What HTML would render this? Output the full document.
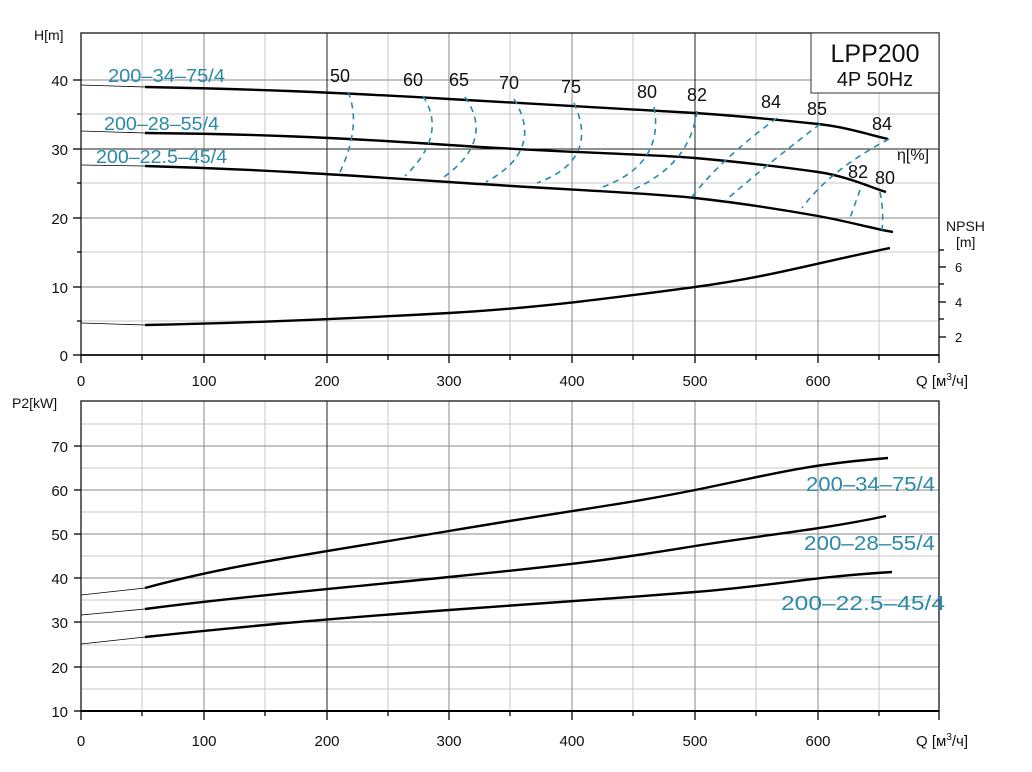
<!DOCTYPE html>
<html><head><meta charset="utf-8"><style>
body{margin:0;background:#fff;}
svg{display:block;font-family:"Liberation Sans",sans-serif;}
.t{fill:#2a8aa8;font-size:18px;}
.tb{fill:#2a8aa8;font-size:20px;}
.k{fill:#111;font-size:15px;}
.e{fill:#111;font-size:18px;}
.d{fill:none;stroke:#2a8aa8;stroke-width:1.6;stroke-dasharray:6,5;}
.c{fill:none;stroke:#000;stroke-width:2.4;}
.th{fill:none;stroke:#000;stroke-width:0.8;}
</style></head><body>
<svg width="1032" height="772" viewBox="0 0 1032 772">
<g stroke="#c8c8c8" stroke-width="1">
<line x1="142" y1="33" x2="142" y2="355"/><line x1="265" y1="33" x2="265" y2="355"/><line x1="388" y1="33" x2="388" y2="355"/><line x1="510" y1="33" x2="510" y2="355"/><line x1="633" y1="33" x2="633" y2="355"/><line x1="756" y1="33" x2="756" y2="355"/><line x1="879" y1="33" x2="879" y2="355"/>
<line x1="81" y1="114" x2="939" y2="114"/><line x1="81" y1="183" x2="939" y2="183"/><line x1="81" y1="252" x2="939" y2="252"/><line x1="81" y1="321" x2="939" y2="321"/>
</g>
<g stroke="#8a8a8a" stroke-width="1">
<line x1="204" y1="33" x2="204" y2="355"/><line x1="449" y1="33" x2="449" y2="355"/><line x1="572" y1="33" x2="572" y2="355"/><line x1="818" y1="33" x2="818" y2="355"/>
<line x1="81" y1="80" x2="939" y2="80"/><line x1="81" y1="218" x2="939" y2="218"/><line x1="81" y1="287" x2="939" y2="287"/>
</g>
<g stroke="#222" stroke-width="1">
<line x1="327" y1="33" x2="327" y2="355"/><line x1="695" y1="33" x2="695" y2="355"/><line x1="81" y1="149" x2="939" y2="149"/>
</g>
<rect x="81" y="33" width="858" height="322" fill="none" stroke="#333" stroke-width="1.5"/>
<line x1="81" y1="355" x2="939" y2="355" stroke="#000" stroke-width="1.5"/>
<g stroke="#000" stroke-width="1.3">
<line x1="73" y1="80" x2="81" y2="80"/><line x1="73" y1="149" x2="81" y2="149"/><line x1="73" y1="218" x2="81" y2="218"/><line x1="73" y1="287" x2="81" y2="287"/><line x1="73" y1="355" x2="81" y2="355"/>
<line x1="77" y1="114" x2="81" y2="114"/><line x1="77" y1="183" x2="81" y2="183"/><line x1="77" y1="252" x2="81" y2="252"/><line x1="77" y1="321" x2="81" y2="321"/>
<line x1="81" y1="355" x2="81" y2="363"/><line x1="204" y1="355" x2="204" y2="363"/><line x1="327" y1="355" x2="327" y2="363"/><line x1="449" y1="355" x2="449" y2="363"/><line x1="572" y1="355" x2="572" y2="363"/><line x1="695" y1="355" x2="695" y2="363"/><line x1="818" y1="355" x2="818" y2="363"/><line x1="939" y1="355" x2="939" y2="363"/>
<line x1="142" y1="355" x2="142" y2="360"/><line x1="265" y1="355" x2="265" y2="360"/><line x1="388" y1="355" x2="388" y2="360"/><line x1="510" y1="355" x2="510" y2="360"/><line x1="633" y1="355" x2="633" y2="360"/><line x1="756" y1="355" x2="756" y2="360"/><line x1="879" y1="355" x2="879" y2="360"/>
<line x1="939" y1="267" x2="946" y2="267"/><line x1="939" y1="302" x2="946" y2="302"/><line x1="939" y1="337" x2="946" y2="337"/>
<line x1="939" y1="250" x2="944" y2="250"/><line x1="939" y1="284" x2="944" y2="284"/><line x1="939" y1="319" x2="944" y2="319"/>
</g>
<g class="k" text-anchor="end">
<text x="68" y="86">40</text><text x="68" y="155">30</text><text x="68" y="224">20</text><text x="68" y="293">10</text><text x="68" y="361">0</text>
</g>
<text class="k" x="34" y="40" style="font-size:14px">H[m]</text>
<g class="k" text-anchor="middle">
<text x="81" y="386">0</text><text x="204" y="386">100</text><text x="327" y="386">200</text><text x="449" y="386">300</text><text x="572" y="386">400</text><text x="695" y="386">500</text><text x="818" y="386">600</text>
</g>
<text class="k" x="916" y="386">Q [м<tspan dy="-6" style="font-size:10px">3</tspan><tspan dy="6">/ч]</tspan></text>
<g class="k" style="font-size:13px"><text x="955" y="272">6</text><text x="955" y="307">4</text><text x="955" y="342">2</text></g>
<text class="k" x="946" y="231" style="font-size:14px">NPSH</text>
<text class="k" x="956" y="247" style="font-size:14px">[m]</text>
<text class="k" x="897" y="160" style="font-size:16px">η[%]</text>
<rect x="811" y="33" width="128" height="60" fill="#fff" stroke="#333" stroke-width="1"/>
<text x="875" y="62" text-anchor="middle" style="font-size:25px" fill="#111">LPP200</text>
<text x="875" y="86" text-anchor="middle" style="font-size:20px" fill="#111">4P  50Hz</text>
<path class="th" d="M81,85 L145,87"/><path class="th" d="M81,131 L145,133"/><path class="th" d="M81,165 L145,166"/><path class="th" d="M81,323 L145,325"/>
<path class="c" d="M145,87 C250,89 330,92 449,99 S650,110 695,113 S790,121 818,124 S870,135 888,139"/>
<path class="c" d="M145,133 C250,134 330,137 449,145 S650,154 695,158 S790,168 818,172 S870,187 886,192"/>
<path class="c" d="M145,166 C250,169 330,174 449,182 S650,193 695,198 S790,211 818,216 S875,229 893,232"/>
<path class="c" d="M145,325 C250,323 360,318 449,313 S620,297 695,287 S820,262 890,248"/>
<path class="d" d="M348,92 Q362,125 340,172"/>
<path class="d" d="M423,96 Q448,135 405,176"/>
<path class="d" d="M465,97 Q495,140 444,177"/>
<path class="d" d="M514,99 Q545,150 486,182"/>
<path class="d" d="M574,103 Q600,160 537,183"/>
<path class="d" d="M654,107 Q665,165 600,188"/>
<path class="d" d="M697,111 Q690,165 632,190"/>
<path class="d" d="M777,118 Q720,160 692,197"/>
<path class="d" d="M820,124 Q760,170 725,201"/>
<path class="d" d="M889,139 Q830,170 802,208"/>
<path class="d" d="M860,190 L850,218"/>
<path class="d" d="M880,192 Q884,212 882,230"/>
<g class="e" text-anchor="middle">
<text x="340" y="82">50</text><text x="413" y="86">60</text><text x="459" y="86">65</text><text x="509" y="89">70</text><text x="571" y="93">75</text><text x="647" y="98">80</text><text x="697" y="101">82</text><text x="771" y="108">84</text><text x="817" y="115">85</text><text x="882" y="130">84</text><text x="858" y="178">82</text><text x="885" y="184">80</text>
</g>
<text class="t" x="108" y="82" textLength="117" lengthAdjust="spacingAndGlyphs">200–34–75/4</text>
<text class="t" x="104" y="130" textLength="115" lengthAdjust="spacingAndGlyphs">200–28–55/4</text>
<text class="t" x="96" y="163" textLength="131" lengthAdjust="spacingAndGlyphs">200–22.5–45/4</text>

<g stroke="#c8c8c8" stroke-width="1">
<line x1="142" y1="401" x2="142" y2="711"/><line x1="265" y1="401" x2="265" y2="711"/><line x1="388" y1="401" x2="388" y2="711"/><line x1="510" y1="401" x2="510" y2="711"/><line x1="633" y1="401" x2="633" y2="711"/><line x1="756" y1="401" x2="756" y2="711"/><line x1="879" y1="401" x2="879" y2="711"/>
<line x1="81" y1="424" x2="939" y2="424"/><line x1="81" y1="468" x2="939" y2="468"/><line x1="81" y1="512" x2="939" y2="512"/><line x1="81" y1="556" x2="939" y2="556"/><line x1="81" y1="600" x2="939" y2="600"/><line x1="81" y1="645" x2="939" y2="645"/><line x1="81" y1="689" x2="939" y2="689"/>
</g>
<g stroke="#8a8a8a" stroke-width="1">
<line x1="204" y1="401" x2="204" y2="711"/><line x1="449" y1="401" x2="449" y2="711"/><line x1="572" y1="401" x2="572" y2="711"/><line x1="695" y1="401" x2="695" y2="711"/><line x1="818" y1="401" x2="818" y2="711"/>
<line x1="81" y1="446" x2="939" y2="446"/><line x1="81" y1="490" x2="939" y2="490"/><line x1="81" y1="534" x2="939" y2="534"/><line x1="81" y1="578" x2="939" y2="578"/><line x1="81" y1="622" x2="939" y2="622"/><line x1="81" y1="667" x2="939" y2="667"/>
</g>
<line x1="327" y1="401" x2="327" y2="711" stroke="#222"/>
<rect x="81" y="401" width="858" height="310" fill="none" stroke="#333" stroke-width="1.5"/>
<line x1="81" y1="711" x2="939" y2="711" stroke="#000" stroke-width="2"/>
<g stroke="#000" stroke-width="1.3">
<line x1="74" y1="446" x2="81" y2="446"/><line x1="74" y1="490" x2="81" y2="490"/><line x1="74" y1="534" x2="81" y2="534"/><line x1="74" y1="578" x2="81" y2="578"/><line x1="74" y1="622" x2="81" y2="622"/><line x1="74" y1="667" x2="81" y2="667"/><line x1="74" y1="711" x2="81" y2="711"/>
<line x1="81" y1="711" x2="81" y2="720"/><line x1="204" y1="711" x2="204" y2="720"/><line x1="327" y1="711" x2="327" y2="720"/><line x1="449" y1="711" x2="449" y2="720"/><line x1="572" y1="711" x2="572" y2="720"/><line x1="695" y1="711" x2="695" y2="720"/><line x1="818" y1="711" x2="818" y2="720"/><line x1="939" y1="711" x2="939" y2="720"/>
<line x1="142" y1="711" x2="142" y2="716"/><line x1="265" y1="711" x2="265" y2="716"/><line x1="388" y1="711" x2="388" y2="716"/><line x1="510" y1="711" x2="510" y2="716"/><line x1="633" y1="711" x2="633" y2="716"/><line x1="756" y1="711" x2="756" y2="716"/><line x1="879" y1="711" x2="879" y2="716"/>
</g>
<g class="k" text-anchor="end">
<text x="68" y="452">70</text><text x="68" y="496">60</text><text x="68" y="540">50</text><text x="68" y="584">40</text><text x="68" y="628">30</text><text x="68" y="673">20</text><text x="68" y="717">10</text>
</g>
<text class="k" x="12" y="408" style="font-size:14px">P2[kW]</text>
<g class="k" text-anchor="middle">
<text x="81" y="746">0</text><text x="204" y="746">100</text><text x="327" y="746">200</text><text x="449" y="746">300</text><text x="572" y="746">400</text><text x="695" y="746">500</text><text x="818" y="746">600</text>
</g>
<text class="k" x="916" y="746">Q [м<tspan dy="-6" style="font-size:10px">3</tspan><tspan dy="6">/ч]</tspan></text>
<path class="th" d="M81,595 L145,588"/><path class="th" d="M81,615 L145,609"/><path class="th" d="M81,644 L145,637"/>
<path class="c" d="M145,588 C230,565 300,556 449,531 S620,505 695,490 S800,465 888,458"/>
<path class="c" d="M145,609 C230,598 300,592 449,577 S620,558 695,546 S820,530 886,516"/>
<path class="c" d="M145,637 C230,628 300,621 449,610 S620,598 695,592 S820,576 892,572"/>
<text class="tb" x="806" y="491" textLength="129" lengthAdjust="spacingAndGlyphs">200–34–75/4</text>
<text class="tb" x="804" y="550" textLength="131" lengthAdjust="spacingAndGlyphs">200–28–55/4</text>
<text class="tb" x="781" y="610" textLength="164" lengthAdjust="spacingAndGlyphs">200–22.5–45/4</text>
</svg>
</body></html>
